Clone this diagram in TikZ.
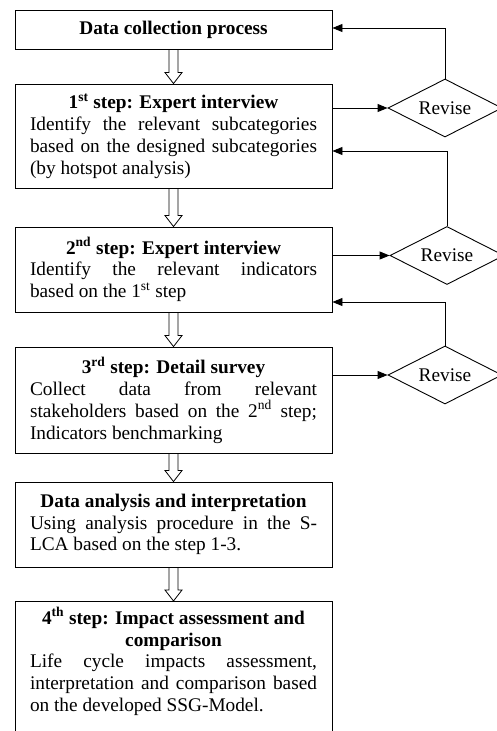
\documentclass[tikz,border=0pt]{standalone}
\usepackage{fontspec}
\setmainfont{Liberation Serif}
\usetikzlibrary{shapes.geometric,arrows.meta,calc}
\tikzset{
  box/.style={draw, line width=0.9pt, text width=287pt, inner xsep=15pt, inner ysep=6pt,
    align=justify, font=\fontsize{19.3}{21.8}\selectfont},
  revise/.style={diamond, draw, line width=0.9pt, inner sep=0pt, minimum width=114pt,
    minimum height=58pt, aspect=1.97, font=\fontsize{19.3}{21.8}\selectfont},
  conn/.style={line width=0.9pt, -{Triangle[length=10pt,width=8pt]}},
  hollow/.style={line width=0.8pt}
}
\newcommand\hollowarrow[2]{%
  \draw[hollow] let \p1=(#1.south), \p2=(#2.north) in
    (\x1-4.5pt,\y1) -- (\x1-4.5pt,\y2+11pt) -- (\x1-8.5pt,\y2+11pt) -- (\x1,\y2)
    -- (\x1+8.5pt,\y2+11pt) -- (\x1+4.5pt,\y2+11pt) -- (\x1+4.5pt,\y1);}
\begin{document}
\begin{tikzpicture}[x=1pt,y=-1pt]
\useasboundingbox (0,0) rectangle (496,731);

\node[box, minimum height=39pt] (b0) at (173.5,29.5)
  {{\centering\bfseries Data collection process\par}};

\node[box, minimum height=104pt] (s1) at (173.5,136)
  {{\centering\bfseries 1\textsuperscript{st} step: Expert interview\par}
   Identify the relevant subcategories\linebreak based on the designed subcategories\linebreak (by hotspot analysis)};

\node[box, minimum height=85pt] (s2) at (173.5,269.5)
  {{\centering\bfseries 2\textsuperscript{nd} step: Expert interview\par}
   Identify the relevant indicators\linebreak based on the 1\textsuperscript{st} step};

\node[box, minimum height=106pt] (s3) at (173.5,400)
  {{\centering\bfseries 3\textsuperscript{rd} step: Detail survey\par}
   Collect data from relevant\linebreak stakeholders based on the 2\textsuperscript{nd} step;\linebreak Indicators benchmarking};

\node[box, minimum height=85pt] (da) at (173.5,524.5)
  {{\centering\bfseries Data analysis and interpretation\par}
   Using analysis procedure in the S-\linebreak LCA based on the step 1-3.};

\node[box, anchor=north] (s4) at (173.5,601)
  {{\centering\bfseries 4\textsuperscript{th} step: Impact assessment and\\ comparison\par}
   Life cycle impacts assessment,\linebreak interpretation and comparison based\linebreak on the developed SSG-Model.\par\rule{0pt}{40pt}};

\node[revise] (d1) at (445,108) {Revise};
\node[revise] (d2) at (447,255.5) {Revise};
\node[revise] (d3) at (445,375) {Revise};

\hollowarrow{b0}{s1}
\hollowarrow{s1}{s2}
\hollowarrow{s2}{s3}
\hollowarrow{s3}{da}
\hollowarrow{da}{s4}

\draw[conn] (d1.west -| s1.east) -- (d1.west);
\draw[conn] (d2.west -| s2.east) -- (d2.west);
\draw[conn] (d3.west -| s3.east) -- (d3.west);

\draw[conn] (d1.north) |- ($(b0.east)+(0,-1.5)$);
\draw[conn] (d2.north) |- ($(s1.east)+(0,15)$);
\draw[conn] (d3.north) |- ($(s2.east)+(0,32.5)$);
\end{tikzpicture}
\end{document}
